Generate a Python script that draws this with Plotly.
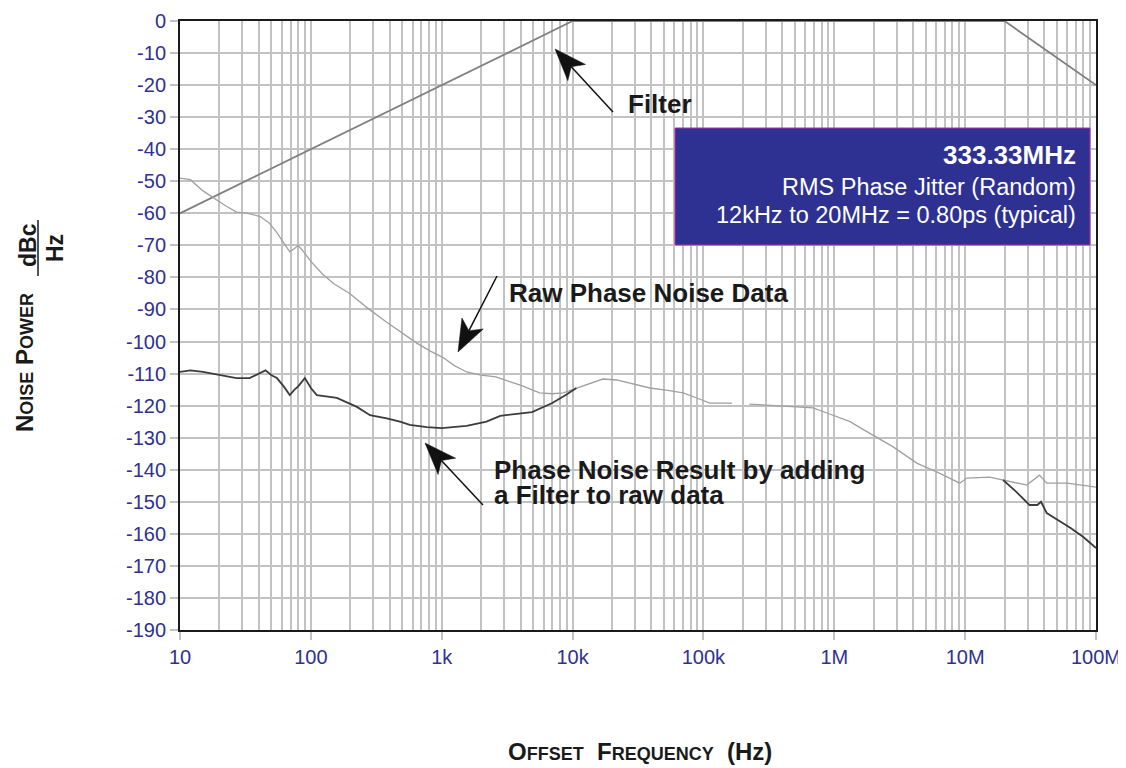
import math
import plotly.graph_objects as go

# ---------------- data ----------------
raw_freq = [10, 12, 15, 17.8, 22, 27, 33, 41, 48, 55, 62, 69, 75, 80, 90, 100, 123, 150, 198, 270,
            380, 500, 645, 820, 1025, 1250, 1550, 2000, 2600, 3300, 4000, 5600, 7000, 8500, 10700,
            13500, 17000, 21700, 30000, 39000, 55000, 70000, 90000, 112000, 165000, None, 225000,
            350000, 480000, 690000, 880000, 1.32e6, 1.56e6, 1.96e6, 2.8e6, 4.3e6, 6.0e6, 9.1e6,
            10.3e6, 15.4e6, 19.5e6, 29.6e6, 37e6, 42e6, 60e6, 100e6]
raw_db = [-49, -49.5, -53, -55, -57.5, -59.6, -60, -61, -63, -66, -69, -72, -71, -70, -72.5, -75, -79,
          -82, -85, -89.5, -94, -97.5, -100.5, -103, -105, -107.5, -109.5, -110.5, -111, -112.5,
          -113.6, -116, -116.3, -116, -114.5, -113, -111.7, -112, -113.3, -114.5, -115.3, -116,
          -117.7, -119.2, -119.2, None, -119.5, -120, -120.4, -120.7, -122.3, -125, -126.8, -129.2,
          -132.8, -138, -140.6, -144.2, -142.6, -142.3, -143.2, -144.8, -141.7, -144.2, -144.2, -145.4]

result_low_freq = [10, 12, 15, 20, 27, 34, 40, 45, 50, 55, 62, 69, 75, 80, 90, 100, 111, 158, 225, 283,
                   380, 480, 570, 770, 1000, 1550, 2200, 2800, 4900, 7000, 9000, 10700]
result_low_db = [-109.5, -109, -109.5, -110.5, -111.4, -111.4, -110, -109, -110.5, -111.4, -114, -116.7,
                 -115, -114, -111.4, -114.5, -116.7, -117.6, -120.4, -123, -124, -125, -126, -126.7,
                 -127, -126.3, -125, -123.2, -122, -119.2, -116.5, -114.5]

result_high_freq = [19.5e6, 24.5e6, 31e6, 35.6e6, 38e6, 42e6, 64e6, 80e6, 100e6]
result_high_db = [-143.2, -146.8, -151, -151, -150, -153.5, -158.2, -161, -164.4]

filter_freq = [10, 10000, 20e6, 100e6]
filter_db = [-60, 0, 0, -20]

x_tick_vals = [10, 100, 1e3, 1e4, 1e5, 1e6, 1e7, 1e8]
x_tick_text = ["10", "100", "1k", "10k", "100k", "1M", "10M", "100M"]
y_tick_vals = list(range(0, -200, -10))
y_tick_text = [str(v) for v in y_tick_vals]

# ---------------- layout helpers (screen pixel -> paper) ----------------
SCREEN_W, SCREEN_H = 1126, 768
OFF = 8                      # page body margin
W, H = SCREEN_W - OFF, SCREEN_H - OFF
L, R, T, B = 180, 1096, 21, 630   # plot area in screen pixels


def px(x):
    return (x - L) / (R - L)


def py(y):
    return (B - y) / (B - T)


FONT = "Liberation Sans, Arial, Helvetica, sans-serif"
NAVY = "#2e3192"
GRID = "#c2c2c2"

fig = go.Figure()
fig.add_trace(go.Scatter(x=filter_freq, y=filter_db, mode="lines",
                         line=dict(color="#808080", width=1.8), hoverinfo="skip"))
fig.add_trace(go.Scatter(x=raw_freq, y=raw_db, mode="lines", connectgaps=False,
                         line=dict(color="#a0a0a0", width=1.3)))
fig.add_trace(go.Scatter(x=result_low_freq, y=result_low_db, mode="lines",
                         line=dict(color="#3c3c3c", width=1.8)))
fig.add_trace(go.Scatter(x=result_high_freq, y=result_high_db, mode="lines",
                         line=dict(color="#3c3c3c", width=1.8)))

annotations = []
shapes = []


def arrow(tip, tail, head_len=32, half_w=12, notch=8):
    tx, ty = tip
    dx, dy = tail[0] - tx, tail[1] - ty
    d = math.hypot(dx, dy)
    ux, uy = dx / d, dy / d
    nx, ny = -uy, ux
    bx, by = tx + ux * head_len, ty + uy * head_len
    p1 = (bx + nx * half_w, by + ny * half_w)
    p2 = (bx - nx * half_w, by - ny * half_w)
    pn = (tx + ux * (head_len - notch), ty + uy * (head_len - notch))
    shapes.append(dict(type="line", xref="paper", yref="paper",
                       x0=px(pn[0]), y0=py(pn[1]), x1=px(tail[0]), y1=py(tail[1]),
                       line=dict(color="#111111", width=1.5)))
    pts = [tip, p1, pn, p2]
    path = "M " + " L ".join(f"{px(a):.5f},{py(b):.5f}" for a, b in pts) + " Z"
    shapes.append(dict(type="path", xref="paper", yref="paper", path=path,
                       fillcolor="#111111", line=dict(color="#111111", width=0.5)))


def label(text, x, y, size, xanchor="left", color="#1a1a1a", angle=0, yanchor="middle"):
    annotations.append(dict(x=px(x), y=py(y), xref="paper", yref="paper", text=text,
                            showarrow=False, xanchor=xanchor, yanchor=yanchor, textangle=angle,
                            font=dict(family=FONT, size=size, color=color)))


arrow((555, 49), (613, 112))
arrow((458, 352), (497, 276))
arrow((425, 443), (483, 505))

label("<b>Filter</b>", 626, 104, 26)
label("<b>Raw Phase Noise Data</b>", 507, 293, 26)
label("<b>Phase Noise Result by adding</b>", 492, 470, 26)
label("<b>a Filter to raw data</b>", 492, 495, 26)

# info box
shapes.append(dict(type="rect", xref="paper", yref="paper", x0=px(675), x1=px(1090), y0=py(245),
                   y1=py(128), fillcolor=NAVY, line=dict(color="#b2309a", width=1), layer="above"))
label("<b>333.33MHz</b>", 1078, 155, 26, xanchor="right", color="white")
label("RMS Phase Jitter (Random)", 1078, 187, 23.5, xanchor="right", color="white")
label("12kHz to 20MHz = 0.80ps (typical)", 1078, 215, 23.5, xanchor="right", color="white")

# axis titles (small caps)
S = 'style="font-size:18px"'
label(f"<b>O<span {S}>FFSET</span>&nbsp; F<span {S}>REQUENCY</span>&nbsp; (Hz)</b>",
      640, 751, 24, xanchor="center")
label(f"<b>N<span {S}>OISE</span> P<span {S}>OWER</span></b>", 24, 363, 24,
      xanchor="center", angle=-90)
label("<b>dBc</b>", 28, 245, 23, xanchor="center", angle=-90)
label("<b>Hz</b>", 55, 248, 23, xanchor="center", angle=-90)
shapes.append(dict(type="line", xref="paper", yref="paper", x0=px(38), x1=px(38), y0=py(220),
                   y1=py(276), line=dict(color="#1a1a1a", width=1.5)))

fig.update_layout(
    width=W, height=H,
    margin=dict(l=L - OFF, r=W - (R - OFF), t=T - OFF, b=H - (B - OFF), autoexpand=False),
    paper_bgcolor="white", plot_bgcolor="white",
    showlegend=False,
    annotations=annotations, shapes=shapes,
    xaxis=dict(type="log", range=[1, 8], tickmode="array", tickvals=x_tick_vals, ticktext=x_tick_text,
               automargin=False,
               showgrid=True, gridcolor=GRID, gridwidth=1.8,
               minor=dict(dtick="D1", showgrid=True, gridcolor=GRID, gridwidth=1.8),
               ticks="outside", ticklen=8, tickcolor=GRID, tickwidth=1.8,
               showline=True, linecolor="#1a1a1a", linewidth=2, mirror=True,
               tickfont=dict(family=FONT, size=20, color=NAVY), zeroline=False),
    yaxis=dict(range=[-190, 0], tickmode="array", tickvals=y_tick_vals, ticktext=y_tick_text,
               automargin=False,
               showgrid=True, gridcolor=GRID, gridwidth=1.8,
               ticks="outside", ticklen=8, tickcolor=GRID, tickwidth=1.8,
               showline=True, linecolor="#1a1a1a", linewidth=2, mirror=True,
               tickfont=dict(family=FONT, size=20, color=NAVY), zeroline=False),
)

fig.write_html("out.html")
